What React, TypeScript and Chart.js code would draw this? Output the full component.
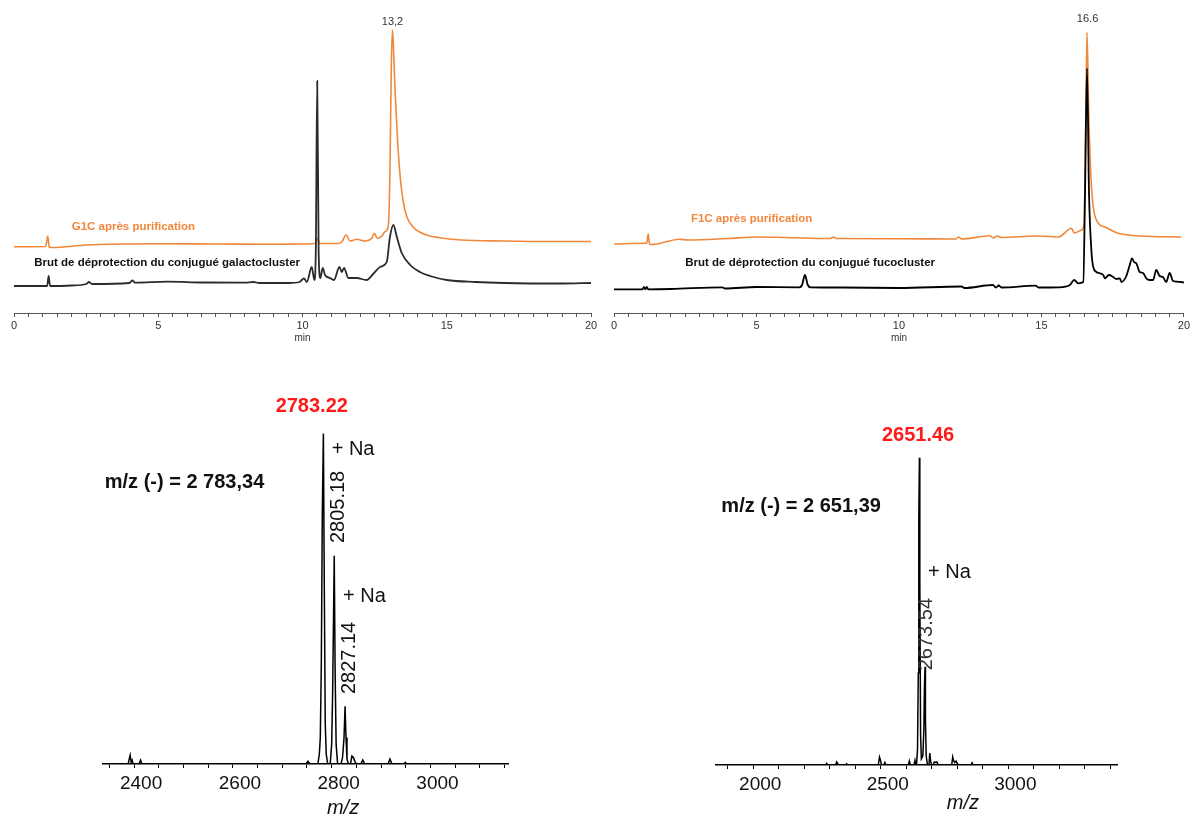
import React, { useEffect, useRef } from 'react';
import Chart from 'chart.js/auto';

const FONT = '"Liberation Sans", Arial, Helvetica, sans-serif';

// ---------- HPLC galactocluster (min, intensity) ----------
const galOrangeT = [0, 1.1, 1.17, 1.22, 1.3, 2.3, 2.5, 5, 7, 9, 10, 10.45, 10.52, 10.6, 11.2, 11.36, 11.51, 11.65, 11.88, 12.17, 12.4, 12.49, 12.59, 12.75, 12.86, 12.97, 13.03, 13.08, 13.12, 13.16, 13.22, 13.3, 13.4, 13.5, 13.62, 13.8, 14.0, 14.3, 14.7, 15.5, 17, 18.5, 20];
const galOrange = [66.3, 66.5, 77, 66, 65.5, 67.5, 68, 69.3, 69, 68.7, 69, 69.5, 74.7, 69.5, 69.5, 71, 78, 72, 73.7, 72, 74.7, 79.7, 74.7, 77, 81.3, 86, 140, 250, 283, 260, 215, 170, 132, 110, 96, 87, 82, 78, 75.5, 73, 72, 71.5, 71.5];
const galBlackT = [0, 1.15, 1.2, 1.25, 2, 2.5, 2.6, 2.7, 4.0, 4.1, 4.2, 5.3, 6.5, 8.0, 8.3, 8.5, 9.5, 9.9, 10.05, 10.15, 10.32, 10.41, 10.46, 10.51, 10.56, 10.62, 10.7, 10.78, 10.95, 11.09, 11.28, 11.36, 11.44, 11.59, 11.88, 12.22, 12.45, 12.69, 12.92, 13.03, 13.15, 13.27, 13.44, 13.73, 14.07, 14.42, 15, 16, 17, 19, 20];
const galBlack = [27, 27, 37, 27, 27.5, 29, 31, 29, 30, 32.5, 30.3, 31.3, 30.5, 30.3, 31, 30, 30, 31, 34.7, 31, 46, 33, 60, 232, 60, 35, 45, 38, 35, 33, 46, 41, 45, 35, 35, 33, 39, 46, 51, 76, 88, 76, 60, 48, 41, 37, 33, 31, 30, 29.5, 30];

// ---------- HPLC fucocluster (min, intensity) ----------
const fucOrangeT = [0, 1.1, 1.15, 1.2, 1.25, 1.5, 2.3, 2.6, 4, 5, 6, 7.6, 7.7, 7.8, 10, 12, 12.1, 12.2, 13.2, 13.3, 13.45, 13.6, 14.8, 15.3, 15.6, 16.06, 16.15, 16.41, 16.5, 16.56, 16.6, 16.66, 16.76, 16.93, 17.23, 17.69, 18.5, 19.9];
const fucOrange = [69, 69.7, 69.5, 79, 68.5, 69, 73.7, 73, 74.5, 76, 75.5, 74.5, 76, 74.5, 74.3, 74, 76, 74, 77.3, 75, 77, 75.5, 77, 76.5, 76, 84.7, 80, 83, 90, 200, 280.7, 200, 125, 93, 86, 79.7, 77, 76];
const fucBlackT = [0, 1.0, 1.05, 1.1, 1.15, 1.2, 2, 3.8, 3.9, 5, 6.5, 6.6, 6.7, 6.8, 6.9, 8, 10, 12.2, 12.3, 13.3, 13.4, 13.5, 13.6, 14.8, 14.9, 15.6, 16.0, 16.15, 16.29, 16.47, 16.53, 16.6, 16.67, 16.76, 16.82, 16.93, 17.05, 17.17, 17.23, 17.37, 17.52, 17.63, 17.75, 17.81, 17.98, 18.1, 18.18, 18.25, 18.33, 18.45, 18.57, 18.68, 18.8, 18.92, 19.03, 19.15, 19.27, 19.38, 19.5, 19.62, 19.9, 20];
const fucBlack = [23.7, 23.7, 26, 23.7, 26, 23.7, 24, 25.7, 24.5, 26, 25.7, 28, 38, 28, 25.7, 25.5, 25, 26.5, 25, 28, 25.5, 27.5, 25.5, 27.3, 25.5, 25.7, 28, 33, 29.7, 31, 120, 244.7, 120, 60, 46, 41, 39.7, 38, 34.7, 38, 36, 34, 34.7, 31, 37, 48, 54.7, 51, 49.7, 41, 40, 34.7, 33, 33, 43, 37, 35.7, 31, 40, 32, 31, 30.5];
const hplcTicksMin = 0;
const hplcTicksMax = 20;

// ---------- MS galactocluster (m/z, relative %) ----------
const msGalMz = [2337, 2388, 2390, 2392, 2394, 2396, 2398, 2410, 2413, 2416, 2748, 2752, 2756, 2772, 2775, 2777, 2779, 2781, 2783.22, 2785, 2787, 2789, 2792, 2797, 2800, 2802, 2805.18, 2807, 2809, 2812, 2819, 2822, 2825, 2827.14, 2829, 2831, 2834, 2838, 2841, 2844, 2847, 2850, 2859, 2863, 2867, 2914, 2918, 2922, 2946, 2949, 2952, 3157];
const msGalI = [0, 0, 1.5, 2.7, 0.6, 1.2, 0, 0, 1.2, 0, 0, 0.8, 0, 0, 3, 8, 30, 75, 100, 55, 12, 3, 0, 0, 6, 22, 63, 28, 6, 0, 0, 2, 8, 17.5, 8, 1.5, 0, 0, 2.4, 2, 0.8, 0, 0, 1.2, 0, 0, 1.5, 0, 0, 0.5, 0, 0];

// ---------- MS fucocluster (m/z, relative %) ----------
const msFucMz = [1854, 2284, 2288, 2292, 2323, 2327, 2331, 2335, 2362, 2366, 2370, 2490, 2495, 2499, 2503, 2512, 2516, 2520, 2608, 2612, 2616, 2630, 2634, 2637, 2640, 2644, 2647, 2649, 2651.46, 2653, 2656, 2659, 2665, 2669, 2671, 2673.54, 2675, 2678, 2683, 2689, 2692, 2696, 2700, 2705, 2710, 2715, 2720, 2725, 2778, 2782, 2785, 2790, 2795, 2800, 2805, 2854, 2858, 2862, 3426];
const msFucI = [0, 0, 0.5, 0, 0, 1, 0.5, 0, 0, 0.4, 0, 0, 2.6, 1.5, 0, 0, 0.8, 0, 0, 1.3, 0, 0, 1.5, 0, 0, 5, 30, 80, 100, 60, 10, 2, 3, 12, 25, 32, 15, 3, 0, 0, 3.9, 1, 0, 0, 1, 0.8, 1, 0, 0, 2.6, 1.5, 0.8, 1.3, 0.5, 0, 0, 0.7, 0, 0];

type Ann = { x: number; y: number; text: string; font: string; color: string; align?: CanvasTextAlign; rotate?: boolean };

function textPlugin(anns: Ann[]) {
  return {
    id: 'texts',
    afterDraw(chart: any) {
      const { ctx, scales } = chart;
      anns.forEach((a) => {
        const px = scales.x.getPixelForValue(a.x);
        const py = scales.y.getPixelForValue(a.y);
        ctx.save();
        ctx.translate(px, py);
        if (a.rotate) ctx.rotate(-Math.PI / 2);
        ctx.font = a.font;
        ctx.fillStyle = a.color;
        ctx.textAlign = a.align || 'center';
        ctx.textBaseline = 'middle';
        ctx.fillText(a.text, 0, 0);
        ctx.restore();
      });
    },
  };
}

const pts = (xs: number[], ys: number[]) => xs.map((x, i) => ({ x, y: ys[i] }));

function chromConfig(black: { x: number; y: number }[], orange: { x: number; y: number }[], blackColor: string, padding: any, anns: Ann[]) {
  return {
    type: 'line',
    data: {
      datasets: [
        { data: black, borderColor: blackColor, borderWidth: 1.8, pointRadius: 0, fill: false, cubicInterpolationMode: 'monotone' },
        { data: orange, borderColor: '#F0883C', borderWidth: 1.6, pointRadius: 0, fill: false, cubicInterpolationMode: 'monotone' },
      ],
    },
    options: {
      responsive: false,
      maintainAspectRatio: false,
      animation: false,
      devicePixelRatio: 1,
      layout: { padding },
      plugins: { legend: { display: false }, tooltip: { enabled: false } },
      scales: {
        x: {
          type: 'linear',
          min: hplcTicksMin,
          max: hplcTicksMax,
          afterFit: (s: any) => { s.height = 47; },
          border: { display: true, color: '#555', width: 1 },
          grid: { drawOnChartArea: false, drawTicks: true, tickLength: 4, color: '#555' },
          ticks: {
            stepSize: 0.5, autoSkip: false, maxRotation: 0, minRotation: 0, includeBounds: false, padding: 2,
            color: '#333', font: { family: FONT, size: 11 },
            callback: (v: number) => (v % 5 === 0 ? String(v) : ''),
          },
          title: { display: true, text: 'min', color: '#333', font: { family: FONT, size: 10 }, padding: { top: 0, bottom: 16 } },
        },
        y: { display: false, min: 0, max: 303 },
      },
    },
    plugins: [textPlugin(anns)],
  };
}

function msConfig(data: { x: number; y: number }[], min: number, max: number, step: number, labelEvery: number, ymax: number, axisH: number, padding: any, anns: Ann[]) {
  return {
    type: 'line',
    data: { datasets: [{ data, borderColor: '#000', borderWidth: 1.5, pointRadius: 0, fill: false, tension: 0 }] },
    options: {
      responsive: false,
      maintainAspectRatio: false,
      animation: false,
      devicePixelRatio: 1,
      layout: { padding },
      plugins: { legend: { display: false }, tooltip: { enabled: false } },
      scales: {
        x: {
          type: 'linear', min, max,
          afterFit: (s: any) => { s.height = axisH; },
          border: { display: true, color: '#000', width: 1.5 },
          grid: { drawOnChartArea: false, drawTicks: true, tickLength: 4, color: '#000' },
          ticks: {
            stepSize: step, autoSkip: false, maxRotation: 0, minRotation: 0, includeBounds: false, padding: 4, labelOffset: 7,
            color: '#111', font: { family: FONT, size: 19 },
            callback: (v: number) => (v % labelEvery === 0 ? String(v) : ''),
          },
        },
        y: { display: false, min: 0, max: ymax },
      },
    },
    plugins: [textPlugin(anns)],
  };
}

function ChartBox({ left, top, width, height, make }: { left: number; top: number; width: number; height: number; make: () => any }) {
  const ref = useRef<HTMLCanvasElement>(null);
  useEffect(() => {
    const chart = new Chart(ref.current as HTMLCanvasElement, make());
    return () => chart.destroy();
  }, []);
  return (
    <div style={{ position: 'absolute', left, top, width, height }}>
      <canvas ref={ref} width={width} height={height} style={{ width, height, display: 'block' }} />
    </div>
  );
}

const ORANGE = '#F0883C';
const b = (s: number) => `bold ${s}px ${FONT}`;
const r = (s: number) => `${s}px ${FONT}`;

export default function App() {
  Chart.defaults.font.family = FONT;
  return (
    <div style={{ position: 'absolute', left: 0, top: 0, width: 1192, height: 816, background: '#fff', overflow: 'hidden' }}>
      <ChartBox left={0} top={0} width={600} height={360} make={() => chromConfig(
        pts(galBlackT, galBlack), pts(galOrangeT, galOrange), '#2b2b2b', { left: 14, right: 9, top: 10, bottom: 0 },
        [
          { x: 13.12, y: 291.3, text: '13,2', font: r(11), color: '#333' },
          { x: 2.0, y: 86.3, text: 'G1C après purification', font: b(11.5), color: ORANGE, align: 'left' },
          { x: 0.7, y: 49.7, text: 'Brut de déprotection du conjugué galactocluster', font: b(11.5), color: '#111', align: 'left' },
        ])} />
      <ChartBox left={600} top={0} width={592} height={360} make={() => chromConfig(
        pts(fucBlackT, fucBlack), pts(fucOrangeT, fucOrange), '#000', { left: 14, right: 6, top: 10, bottom: 0 },
        [
          { x: 16.62, y: 294, text: '16.6', font: r(11), color: '#333' },
          { x: 2.7, y: 94, text: 'F1C après purification', font: b(11.5), color: ORANGE, align: 'left' },
          { x: 2.5, y: 50, text: 'Brut de déprotection du conjugué fucocluster', font: b(11.5), color: '#111', align: 'left' },
        ])} />
      <ChartBox left={0} top={380} width={600} height={436} make={() => msConfig(
        pts(msGalMz, msGalI), 2337, 3157, 50, 200, 115, 52, { left: 103, right: 92, top: 4, bottom: 0 },
        [
          { x: 2759.7, y: 108.1, text: '2783.22', font: b(20), color: '#FF1A1A' },
          { x: 2340.5, y: 85.3, text: 'm/z (-) = 2 783,34', font: b(20), color: '#111', align: 'left' },
          { x: 2800, y: 95.3, text: '+ Na', font: r(20), color: '#111', align: 'left' },
          { x: 2813, y: 77.8, text: '2805.18', font: r(20), color: '#111', rotate: true },
          { x: 2823, y: 50.8, text: '+ Na', font: r(20), color: '#111', align: 'left' },
          { x: 2836, y: 32.1, text: '2827.14', font: r(20), color: '#111', rotate: true },
          { x: 2823, y: -13.3, text: 'm/z', font: `italic 20px ${FONT}`, color: '#111' },
        ])} />
      <ChartBox left={600} top={380} width={592} height={436} make={() => msConfig(
        pts(msFucMz, msFucI), 1854, 3426, 100, 500, 124, 51, { left: 116, right: 75, top: 4, bottom: 0 },
        [
          { x: 2646, y: 107.1, text: '2651.46', font: b(20), color: '#FF1A1A' },
          { x: 1875, y: 84.1, text: 'm/z (-) = 2 651,39', font: b(20), color: '#111', align: 'left' },
          { x: 2685, y: 62.8, text: '+ Na', font: r(20), color: '#111', align: 'left' },
          { x: 2680, y: 42.6, text: '2673.54', font: r(20), color: '#333', rotate: true },
          { x: 2822, y: -12.4, text: 'm/z', font: `italic 20px ${FONT}`, color: '#111' },
        ])} />
    </div>
  );
}
